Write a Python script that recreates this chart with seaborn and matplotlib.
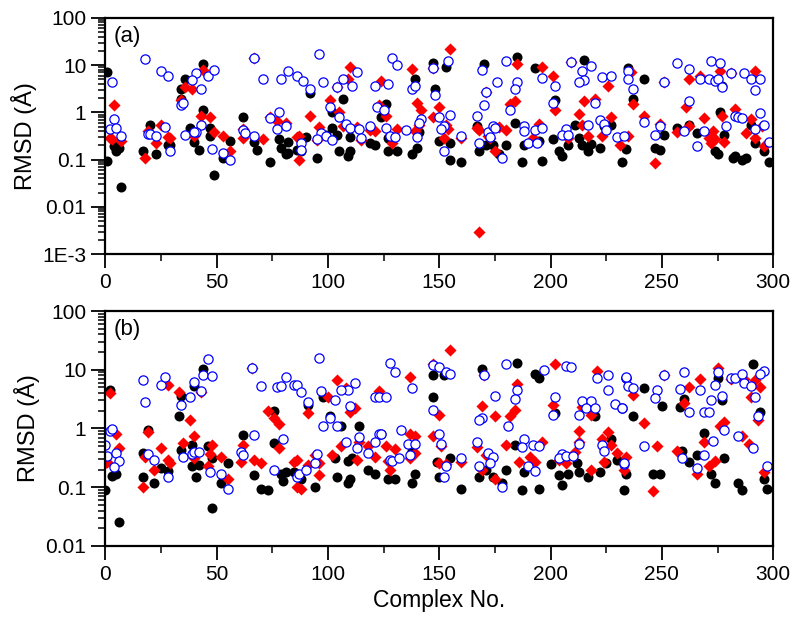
import numpy as np
import pandas as pd
import matplotlib
matplotlib.use("Agg")
import matplotlib.pyplot as plt
import seaborn as sns
from matplotlib.ticker import FixedLocator, LogLocator, NullFormatter, MultipleLocator

# (complex no., RMSD), panel (a)
a_black = [(1, 7.0), (4, 0.19), (6, 0.18), (5, 0.15), (1, 0.092), (7, 0.026),
           (20, 0.55), (17, 0.15), (23, 0.13), (28, 0.2), (29, 0.2), (44, 10.5), (36, 5.0), (34, 3.2),
           (34, 1.9), (38, 0.47), (44, 1.1), (47, 0.47), (40, 0.24), (42, 0.16), (47, 0.32), (49, 0.047),
           (56, 0.25), (53, 0.11), (62, 0.8), (67, 0.24), (68, 0.16), (74, 0.09), (78, 0.27), (82, 0.24),
           (79, 0.18), (81, 0.13), (86, 0.16),
           (92, 2.6), (102, 1.0), (107, 1.9), (126, 1.5), (124, 0.8), (139, 5.0), (147, 11), (153, 9),
           (148, 3.2), (141, 0.38), (102, 0.47), (90, 0.3), (99, 0.34), (104, 0.34), (110, 0.3),
           (119, 0.22), (121, 0.2), (127, 0.28), (140, 0.18), (150, 0.25), (155, 0.23), (82, 0.14),
           (88, 0.15), (95, 0.11), (105, 0.15), (109, 0.12), (110, 0.15), (127, 0.15), (131, 0.15),
           (138, 0.13), (155, 0.1), (160, 0.09),
           (185, 15), (170, 10.5), (193, 8.6), (215, 12.8), (235, 8.6), (202, 1.8), (237, 1.9),
           (167, 0.52), (184, 0.6), (211, 0.55), (224, 0.52), (227, 0.55), (168, 0.15), (171, 0.2),
           (174, 0.2), (177, 0.13), (180, 0.2), (187, 0.088), (196, 0.095), (188, 0.2), (195, 0.25),
           (201, 0.27), (204, 0.15), (205, 0.12), (208, 0.2), (213, 0.28), (214, 0.2), (218, 0.21),
           (217, 0.15), (222, 0.18), (232, 0.09), (234, 0.17),
           (242, 5.0), (277, 3.7), (276, 1.0), (290, 0.53), (292, 0.23), (262, 0.55), (257, 0.47),
           (251, 0.34), (266, 0.37), (278, 0.33), (274, 0.15), (275, 0.13), (247, 0.18), (249, 0.16),
           (283, 0.12), (286, 0.1), (288, 0.11), (282, 0.11), (296, 0.15), (298, 0.09)]

a_red = [(4, 1.45), (2, 0.29), (3, 0.27), (7, 0.25),
         (19, 0.4), (18, 0.11), (23, 0.23), (25, 0.53), (28, 0.3), (29, 0.28), (44, 8.0), (36, 3.5),
         (39, 3.1), (34, 1.8), (43, 0.84), (47, 0.8), (40, 0.32), (49, 0.38), (53, 0.32), (56, 0.15),
         (62, 0.45), (62, 0.28), (71, 0.27), (74, 0.8), (77, 0.65), (81, 0.6), (86, 0.3), (87, 0.1),
         (67, 14),
         (110, 9), (109, 5.2), (104, 3.5), (124, 4.6), (138, 8.3), (147, 8.5), (155, 22), (92, 0.85),
         (101, 1.8), (105, 1.0), (123, 1.45), (126, 0.85), (140, 1.55), (142, 1.1), (150, 1.3),
         (147, 0.8), (96, 0.48), (107, 0.52), (113, 0.5), (119, 0.42), (121, 0.4), (131, 0.44),
         (139, 0.4), (141, 0.55), (154, 0.44), (153, 0.55), (87, 0.32), (95, 0.26), (115, 0.26),
         (129, 0.22), (160, 0.28), (152, 0.28),
         (185, 10.5), (196, 9), (201, 6), (209, 11.4), (226, 3.6), (171, 2.7), (184, 1.7), (182, 1.5),
         (202, 1.15), (215, 1.7), (220, 1.95), (237, 1.5), (213, 0.93), (227, 0.8), (167, 0.47),
         (168, 0.42), (177, 0.5), (180, 0.42), (195, 0.57), (214, 0.55), (173, 0.28), (172, 0.32),
         (175, 0.15), (192, 0.29), (208, 0.28), (217, 0.32), (223, 0.32), (231, 0.2), (235, 0.32),
         (168, 0.003), (236, 7.0),
         (251, 4.3), (262, 5.0), (267, 6.0), (276, 7.5), (281, 6.8), (292, 7.5), (261, 1.3),
         (242, 0.85), (277, 0.85), (283, 1.2), (290, 0.72), (295, 0.52), (288, 0.37), (292, 0.29),
         (269, 0.75), (262, 0.52), (257, 0.38), (249, 0.58), (273, 0.41), (271, 0.28), (274, 0.27),
         (278, 0.24), (272, 0.22), (247, 0.085), (296, 0.19)]

a_blue = [(3, 4.5), (4, 0.71), (2, 0.44), (5, 0.47), (7, 0.31),
          (18, 13.4), (25, 7.5), (28, 6.0), (41, 6.8), (46, 5.8), (49, 8.0), (39, 4.8), (43, 3.2),
          (34, 1.4), (35, 1.6), (67, 14), (71, 5.2), (79, 5.2), (82, 7.5), (86, 5.8), (19, 0.35),
          (20, 0.35), (23, 0.32), (27, 0.48), (29, 0.15), (36, 0.33), (43, 0.55), (41, 0.38),
          (40, 0.38), (48, 0.17), (53, 0.14), (56, 0.1), (62, 0.42), (63, 0.37), (67, 0.32),
          (74, 0.75), (78, 1.0), (77, 0.44), (81, 0.52),
          (96, 17), (113, 7.3), (111, 3.6), (89, 4.6), (92, 3.2), (98, 4.4), (104, 3.5), (107, 5.2),
          (129, 14), (131, 10), (121, 3.6), (127, 4.0), (138, 3.2), (139, 3.6), (147, 8.8), (154, 12),
          (148, 2.3), (101, 1.3), (105, 0.78), (122, 1.3), (125, 1.1), (150, 0.78), (155, 0.9),
          (108, 0.58), (110, 0.47), (114, 0.44), (119, 0.52), (126, 0.47), (135, 0.42), (142, 0.72),
          (141, 0.6), (152, 0.52), (151, 0.44), (88, 0.23), (97, 0.37), (99, 0.32), (102, 0.26),
          (115, 0.28), (128, 0.32), (130, 0.3), (140, 0.3), (160, 0.32), (152, 0.15), (88, 0.16),
          (95, 0.27),
          (180, 12), (169, 7.9), (196, 5.3), (209, 11.4), (218, 9.4), (214, 7.5), (215, 4.8),
          (213, 4.3), (223, 5.5), (227, 5.8), (235, 7.5), (235, 5.0), (237, 3.2), (176, 4.4),
          (185, 4.4), (184, 3.1), (202, 3.6), (171, 2.7), (182, 1.1), (201, 1.55), (220, 1.6),
          (170, 1.45), (167, 0.85), (172, 0.38), (174, 0.52), (175, 0.46), (188, 0.52), (188, 0.4),
          (193, 0.42), (196, 0.47), (207, 0.45), (217, 0.55), (222, 0.7), (224, 0.58), (225, 0.42),
          (168, 0.23), (173, 0.3), (178, 0.11), (190, 0.23), (194, 0.22), (205, 0.34), (208, 0.34),
          (230, 0.3), (233, 0.32),
          (251, 4.3), (257, 11.3), (262, 8.2), (267, 5.2), (271, 5.0), (274, 4.6), (275, 5.2),
          (277, 3.5), (272, 12.4), (276, 11.3), (281, 6.8), (287, 6.9), (290, 5.0), (294, 5.2),
          (292, 3.0), (262, 1.7), (242, 0.62), (283, 0.83), (284, 0.78), (286, 0.76), (294, 0.98),
          (296, 0.55), (292, 0.45), (260, 0.41), (249, 0.52), (247, 0.34), (269, 0.41), (266, 0.19),
          (279, 0.52), (298, 0.24)]

# panel (b)
b_black = [(2, 4.6), (3, 0.155), (5, 0.17), (0, 0.091), (6, 0.026),
           (44, 10.3), (40, 5.2), (34, 3.6), (33, 1.6), (76, 2.0), (62, 0.76), (19, 0.95), (76, 0.56),
           (17, 0.38), (25, 0.21), (28, 0.19), (22, 0.12), (17, 0.15), (34, 0.43), (39, 0.52),
           (39, 0.23), (42, 0.24), (41, 0.15), (46, 0.5), (48, 0.31), (55, 0.26), (52, 0.12),
           (48, 0.045), (67, 0.16), (70, 0.094), (73, 0.09), (79, 0.17), (81, 0.18), (80, 0.13),
           (91, 2.5), (98, 3.5), (147, 8), (152, 8), (147, 3.5), (101, 1.6), (106, 1.1), (114, 1.1),
           (124, 0.82), (138, 0.41), (85, 0.18), (88, 0.14), (94, 0.1), (103, 0.31), (109, 0.28),
           (111, 0.31), (104, 0.15), (109, 0.12), (110, 0.14), (118, 0.2), (121, 0.17), (127, 0.14),
           (130, 0.14), (138, 0.12), (139, 0.17), (149, 0.27), (150, 0.15), (155, 0.31), (160, 0.093),
           (185, 13.2), (169, 10.3), (193, 8.5), (195, 7.1), (202, 1.8), (220, 1.6), (237, 1.6),
           (227, 0.67), (234, 0.17), (230, 0.29), (184, 0.52), (168, 0.15), (171, 0.2), (174, 0.15),
           (178, 0.12), (180, 0.2), (187, 0.09), (195, 0.094), (188, 0.18), (200, 0.25), (208, 0.17),
           (204, 0.16), (205, 0.11), (212, 0.26), (213, 0.18), (217, 0.15), (222, 0.18), (225, 0.26),
           (233, 0.09),
           (291, 12.5), (275, 7.1), (277, 3.0), (260, 3.2), (258, 2.3), (250, 2.4), (242, 4.8),
           (234, 7.2), (269, 0.85), (294, 1.9), (259, 0.41), (266, 0.36), (262, 0.27), (278, 0.31),
           (272, 0.17), (274, 0.12), (246, 0.17), (249, 0.17), (284, 0.12), (286, 0.09), (296, 0.14),
           (297, 0.093)]

b_red = [(2, 4.0), (5, 0.8), (6, 0.47), (1, 0.27), (0, 0.26),
         (43, 4.1), (33, 4.1), (28, 5.5), (38, 1.4), (66, 10.6), (73, 2.0), (76, 1.5), (78, 1.2),
         (62, 0.52), (19, 0.88), (40, 0.74), (35, 0.56), (78, 0.46), (18, 0.33), (22, 0.2), (25, 0.46),
         (28, 0.29), (29, 0.26), (17, 0.1), (40, 0.31), (48, 0.52), (47, 0.37), (46, 0.23), (52, 0.33),
         (55, 0.14), (61, 0.27), (67, 0.29), (70, 0.26), (85, 0.27), (86, 0.1),
         (155, 21.7), (104, 6.6), (108, 4.8), (91, 1.8), (100, 3.4), (110, 1.9), (112, 2.2),
         (137, 7.5), (123, 4.3), (147, 12.5), (150, 1.7), (137, 0.79), (139, 0.75), (137, 0.32),
         (147, 0.75), (151, 0.51), (114, 0.58), (106, 0.51), (118, 0.5), (126, 0.51), (130, 0.44),
         (121, 0.33), (86, 0.29), (88, 0.095), (91, 0.24), (94, 0.36), (96, 0.26), (96, 0.16),
         (102, 0.35), (113, 0.29), (127, 0.28), (128, 0.2), (139, 0.38), (150, 0.26), (153, 0.25),
         (160, 0.27),
         (170, 8.3), (202, 12.3), (221, 9.4), (237, 3.7), (185, 5.8), (184, 2.1), (182, 1.6),
         (169, 2.4), (175, 1.6), (201, 2.5), (214, 2.3), (218, 1.7), (213, 0.92), (213, 0.6),
         (226, 0.88), (223, 0.67), (227, 0.52), (230, 0.38), (234, 0.33), (233, 0.2), (167, 0.49),
         (180, 0.52), (196, 0.6), (171, 0.35), (169, 0.2), (175, 0.14), (186, 0.27), (191, 0.33),
         (193, 0.27), (204, 0.29), (207, 0.26), (211, 0.4), (218, 0.2), (224, 0.27),
         (275, 10.6), (281, 7.0), (287, 6.9), (292, 6.7), (294, 5.0), (290, 3.5), (267, 6.9),
         (262, 5.0), (260, 2.7), (251, 8.2), (242, 1.25), (269, 0.6), (278, 1.3), (276, 1.1),
         (286, 0.74), (289, 0.54), (293, 1.4), (248, 0.5), (257, 0.42), (274, 0.28), (271, 0.23),
         (266, 0.17), (246, 0.087), (296, 0.18)]

b_blue = [(2, 0.89), (3, 0.97), (0, 0.52), (1, 0.34), (5, 0.38), (6, 0.28), (4, 0.22),
          (46, 15), (44, 8.3), (48, 7.8), (40, 6.3), (43, 4.4), (38, 3.4), (34, 2.5), (17, 6.8),
          (18, 2.8), (25, 5.5), (27, 7.4), (66, 10.6), (70, 5.2), (77, 5.0), (79, 5.2), (81, 7.4),
          (85, 5.6), (67, 0.76), (80, 0.65), (19, 0.37), (22, 0.29), (28, 0.15), (35, 0.33),
          (39, 0.37), (40, 0.39), (42, 0.4), (47, 0.18), (52, 0.17), (55, 0.093), (61, 0.39),
          (62, 0.35), (76, 0.2), (86, 0.15),
          (96, 15.6), (112, 6), (109, 4.6), (106, 4.6), (86, 5.6), (88, 4.2), (91, 2.8), (97, 4.3),
          (103, 3.1), (110, 2.4), (128, 13), (130, 9), (138, 4.8), (121, 3.5), (123, 3.5), (126, 3.5),
          (147, 12), (150, 11), (153, 9.3), (155, 8.6), (147, 2.1), (101, 1.5), (98, 1.1), (104, 1.1),
          (133, 0.96), (136, 0.54), (139, 0.55), (137, 0.35), (150, 0.8), (151, 0.55), (123, 0.8),
          (124, 0.82), (114, 0.73), (108, 0.58), (113, 0.47), (121, 0.58), (118, 0.38), (87, 0.17),
          (90, 0.2), (94, 0.26), (95, 0.37), (128, 0.29), (129, 0.28), (132, 0.32), (153, 0.23),
          (160, 0.31), (152, 0.15),
          (180, 12.5), (170, 8.3), (207, 11.5), (209, 11), (197, 10), (221, 7.3), (226, 8), (234, 7.3),
          (235, 5.3), (237, 4.9), (226, 4.6), (185, 4.6), (184, 3.2), (181, 1.1), (175, 3.6),
          (169, 1.5), (168, 1.4), (202, 3.5), (201, 1.7), (214, 2.9), (218, 2.9), (213, 1.7),
          (216, 2.2), (220, 2.2), (229, 2.6), (232, 2.2), (213, 0.54), (223, 0.52), (224, 0.42),
          (233, 0.25), (167, 0.6), (188, 0.65), (187, 0.48), (192, 0.52), (195, 0.5), (172, 0.38),
          (174, 0.33), (173, 0.26), (168, 0.23), (178, 0.1), (190, 0.23), (193, 0.19), (205, 0.37),
          (204, 0.31), (207, 0.34), (210, 0.34),
          (296, 9.7), (294, 8.4), (292, 3.4), (275, 9.3), (281, 7.1), (283, 7.1), (286, 8.4),
          (287, 6.0), (290, 5.2), (274, 5.4), (277, 3.6), (267, 4.6), (260, 9.2), (262, 1.9),
          (258, 4.7), (248, 4.6), (247, 3.3), (251, 8.3), (234, 7.4), (232, 2.2), (269, 1.9),
          (271, 1.9), (272, 3.0), (273, 0.62), (278, 0.95), (284, 0.74), (291, 0.46), (293, 1.6),
          (242, 0.5), (269, 0.35), (259, 0.32), (266, 0.21), (233, 0.26), (297, 0.23)]

a_ticks = [100, 10, 1, 0.1, 0.01, 0.001]
a_labels = ['100', '10', '1', '0.1', '0.01', '1E-3']
b_ticks = [100, 10, 1, 0.1, 0.01]
b_labels = ['100', '10', '1', '0.1', '0.01']
x_ticks = [0, 50, 100, 150, 200, 250, 300]

sns.set_style("ticks")
plt.rcParams['font.family'] = ['Liberation Sans', 'DejaVu Sans']

fig = plt.figure(figsize=(8, 6.4), dpi=100)
ax_a = fig.add_axes([0.1315, 0.603, 0.835, 0.369])
ax_b = fig.add_axes([0.1315, 0.147, 0.835, 0.367])


def draw_panel(ax, black, red, blue, yticks, ylabels, tag):
    styles = [
        (black, dict(marker='o', color='black', s=52, linewidth=0)),
        (red, dict(marker='D', color='red', s=38, linewidth=0)),
        (blue, dict(marker='o', color='white', edgecolor='blue', s=44, linewidth=0.9)),
    ]
    for pts, kw in styles:
        df = pd.DataFrame(pts, columns=['no', 'rmsd'])
        sns.scatterplot(data=df, x='no', y='rmsd', ax=ax, legend=False, **kw)

    ax.set_yscale('log')
    ax.set_xlim(0, 300)
    ax.set_ylim(min(yticks), max(yticks))
    ax.yaxis.set_major_locator(FixedLocator(yticks))
    ax.set_yticklabels(ylabels)
    ax.yaxis.set_minor_locator(LogLocator(base=10, subs=np.arange(2, 10), numticks=20))
    ax.yaxis.set_minor_formatter(NullFormatter())
    ax.xaxis.set_major_locator(FixedLocator(x_ticks))
    ax.xaxis.set_minor_locator(MultipleLocator(25))

    ax.tick_params(which='major', direction='out', length=10, width=1.3, labelsize=15,
                   color='black', labelcolor='black')
    ax.tick_params(which='minor', direction='out', length=5, width=1.1, color='black')
    for sp in ax.spines.values():
        sp.set_linewidth(1.6)
        sp.set_color('black')

    ax.set_xlabel('')
    ax.set_ylabel('RMSD (Å)', fontsize=17, color='black')
    ax.text(0.012, 0.965, tag, transform=ax.transAxes, va='top', ha='left',
            fontsize=16, color='black')


draw_panel(ax_a, a_black, a_red, a_blue, a_ticks, a_labels, '(a)')
draw_panel(ax_b, b_black, b_red, b_blue, b_ticks, b_labels, '(b)')
ax_b.set_xlabel('Complex No.', fontsize=16.5, color='black')

fig.savefig('out.png', dpi=100)
